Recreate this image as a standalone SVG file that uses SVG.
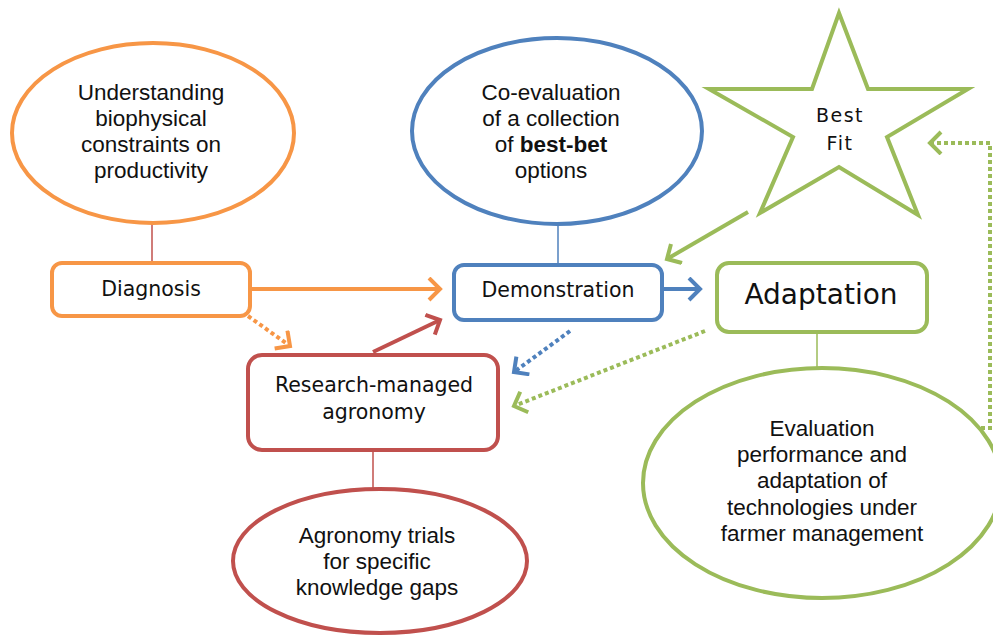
<svg xmlns="http://www.w3.org/2000/svg" width="993" height="636" viewBox="0 0 993 636">
<defs>
<style>
.t{font-family:"Liberation Sans",Arial,sans-serif;font-size:22.5px;fill:#111;text-anchor:middle}
.v{font-family:"DejaVu Sans",Verdana,sans-serif;font-size:20.5px;fill:#111;text-anchor:middle}
.star{font-size:19px;letter-spacing:1.5px}
.big{font-size:28px}
.sh{fill:#fff;stroke-width:4}
.or{stroke:#F79646}.bl{stroke:#4F81BD}.rd{stroke:#C0504D}.gr{stroke:#9BBB59}
.ln{fill:none;stroke-width:4}
.dt{stroke-dasharray:4 3}
.thin{fill:none;stroke-width:1.5}
</style>
<marker id="mo" markerUnits="userSpaceOnUse" markerWidth="30" markerHeight="30" refX="15" refY="12" orient="auto"><path d="M4,1 L15,12 L4,23" fill="none" stroke="#F79646" stroke-width="4"/></marker>
<marker id="mb" markerUnits="userSpaceOnUse" markerWidth="30" markerHeight="30" refX="15" refY="12" orient="auto"><path d="M4,1 L15,12 L4,23" fill="none" stroke="#4F81BD" stroke-width="4"/></marker>
<marker id="mr" markerUnits="userSpaceOnUse" markerWidth="30" markerHeight="30" refX="15" refY="12" orient="auto"><path d="M4,1 L15,12 L4,23" fill="none" stroke="#C0504D" stroke-width="4"/></marker>
<marker id="mg" markerUnits="userSpaceOnUse" markerWidth="30" markerHeight="30" refX="15" refY="12" orient="auto"><path d="M4,1 L15,12 L4,23" fill="none" stroke="#9BBB59" stroke-width="4"/></marker>
</defs>
<rect width="993" height="636" fill="#fff"/>
<g id="connectors">
<line class="thin" x1="152" y1="223" x2="152" y2="263" stroke="#C0504D"/>
<line class="thin" x1="558" y1="224" x2="558" y2="265" stroke="#4F81BD"/>
<line class="thin" x1="373" y1="450" x2="373" y2="488" stroke="#C0504D"/>
<line class="thin" x1="817" y1="332" x2="817" y2="368" stroke="#9BBB59"/>
<path class="ln or" d="M250,289 L440,289" marker-end="url(#mo)"/>
<path class="ln or dt" d="M248,316 L290,346" marker-end="url(#mo)"/>
<path class="ln rd" d="M373,352 L440,320" marker-end="url(#mr)"/>
<path class="ln bl" d="M662,289 L700,289" marker-end="url(#mb)"/>
<path class="ln bl dt" d="M570,331 L514,372" marker-end="url(#mb)"/>
<path class="ln gr dt" d="M705,331 L514,406" marker-end="url(#mg)"/>
<path class="ln gr" d="M748,212 L667,259" marker-end="url(#mg)"/>
<path class="ln gr dt" d="M981,428 L990,428 L990,143 L930,143" marker-end="url(#mg)"/>
</g>
<g id="node-understanding">
<ellipse class="sh or" cx="153" cy="133" rx="141" ry="90"/>
<text class="t" x="151" y="100">Understanding</text>
<text class="t" x="151" y="126">biophysical</text>
<text class="t" x="151" y="152">constraints on</text>
<text class="t" x="151" y="178">productivity</text>
</g>
<g id="node-diagnosis">
<rect class="sh or" x="52" y="263" width="198" height="53" rx="10"/>
<text class="v" x="151" y="296">Diagnosis</text>
</g>
<g id="node-coevaluation">
<ellipse class="sh bl" cx="557" cy="131" rx="145" ry="93"/>
<text class="t" x="551" y="100">Co-evaluation</text>
<text class="t" x="551" y="126">of a collection</text>
<text class="t" x="551" y="152">of <tspan font-weight="bold">best-bet</tspan></text>
<text class="t" x="551" y="178">options</text>
</g>
<g id="node-demonstration">
<rect class="sh bl" x="454" y="265" width="208" height="55" rx="10"/>
<text class="v" x="558" y="297">Demonstration</text>
</g>
<g id="node-research">
<rect class="sh rd" x="248" y="355" width="250" height="95" rx="14"/>
<text class="v" x="374" y="392">Research-managed</text>
<text class="v" x="374" y="419">agronomy</text>
</g>
<g id="node-trials">
<ellipse class="sh rd" cx="380" cy="561" rx="147" ry="72"/>
<text class="t" x="377" y="543">Agronomy trials</text>
<text class="t" x="377" y="569">for specific</text>
<text class="t" x="377" y="595">knowledge gaps</text>
</g>
<g id="node-bestfit">
<polygon class="sh gr" points="839,13 868,89 968,89 887,137 918,215 839,167 760,213 793,137 709,89 812,89"/>
<text class="v star" x="840" y="122">Best</text>
<text class="v star" x="840" y="150">Fit</text>
</g>
<g id="node-adaptation">
<rect class="sh gr" x="717" y="263" width="210" height="69" rx="12"/>
<text class="v big" x="821" y="304">Adaptation</text>
</g>
<g id="node-evaluation">
<ellipse class="sh gr" cx="822" cy="483" rx="179" ry="115"/>
<text class="t" x="822" y="436">Evaluation</text>
<text class="t" x="822" y="462">performance and</text>
<text class="t" x="822" y="488">adaptation of</text>
<text class="t" x="822" y="515">technologies under</text>
<text class="t" x="822" y="541">farmer management</text>
</g>
</svg>
